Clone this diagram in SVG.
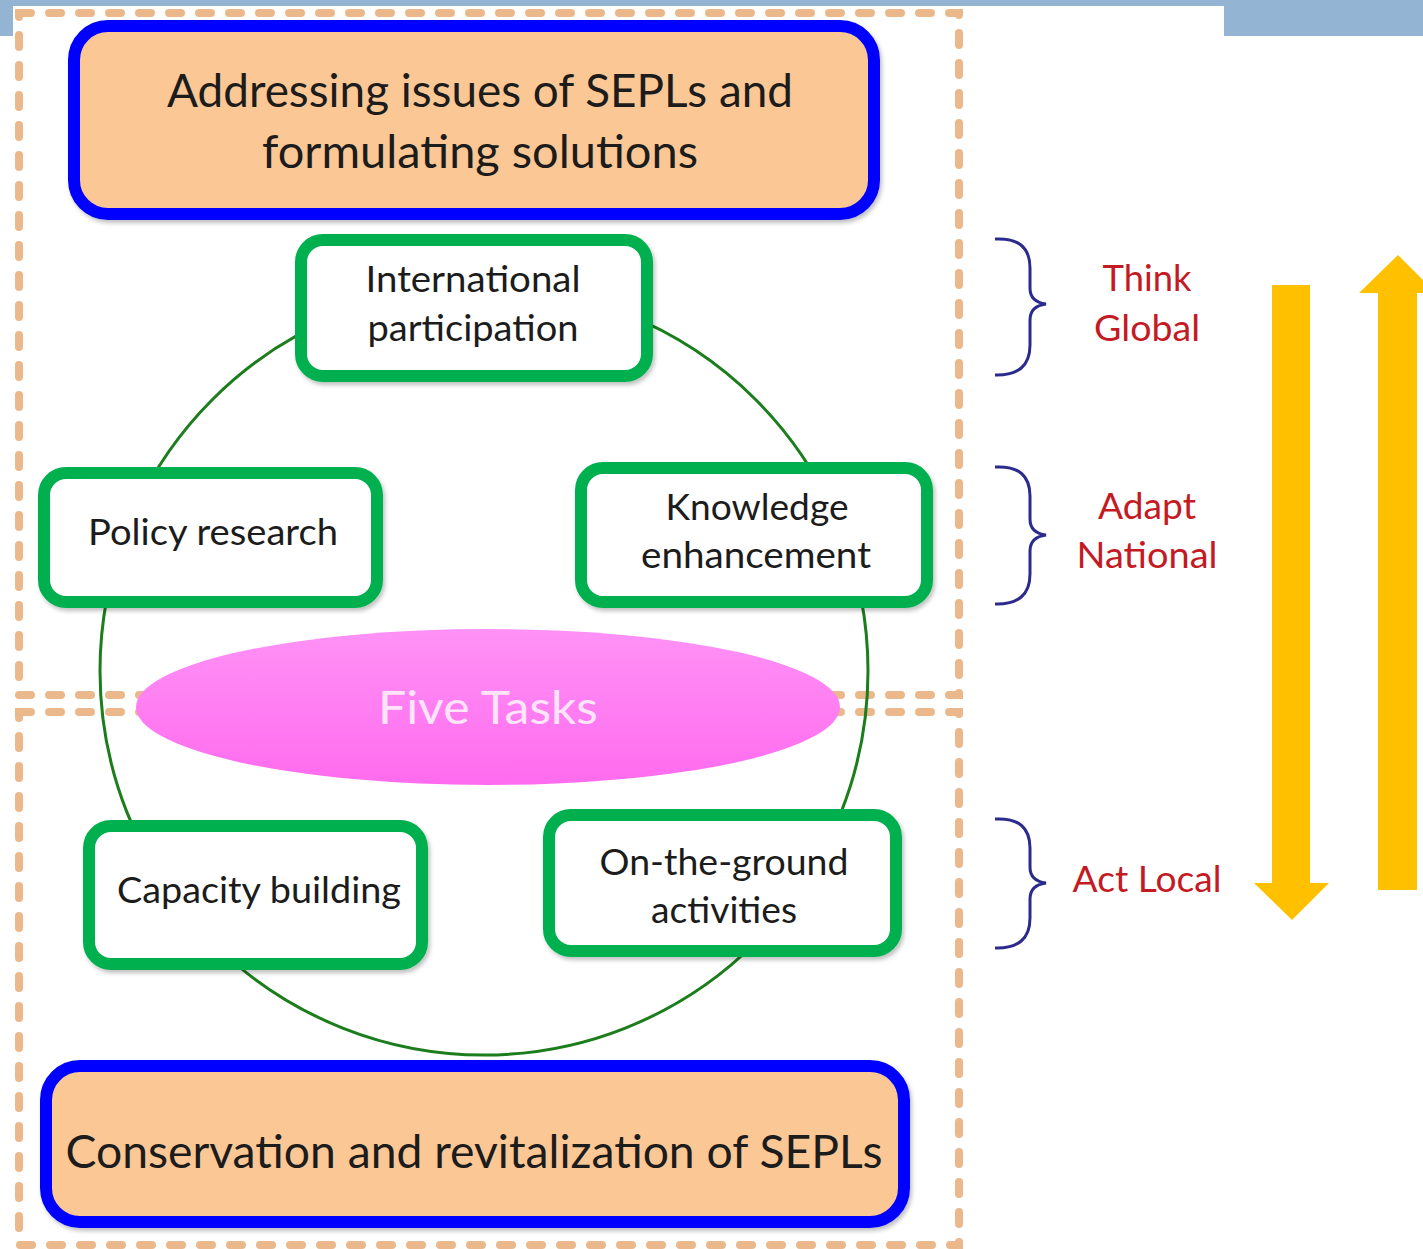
<svg xmlns="http://www.w3.org/2000/svg" width="1423" height="1249" viewBox="0 0 1423 1249">
<style>
.frame{fill:#93B4D2}
.dash{fill:none;stroke:#EBB88C;stroke-width:8;stroke-linecap:round;stroke-dasharray:12 18}
.ring{fill:none;stroke:#1B7D1B;stroke-width:3}
.task rect{fill:#FFFFFF;stroke:#00B050;stroke-width:12}
.goal rect{fill:#FBC794;stroke:#0000FF;stroke-width:12}
.t{font-family:Lato,"Open Sans","Liberation Sans",sans-serif;fill:#1C1C1C;text-anchor:middle}
.tn{font-size:37px}
.tg{font-size:46px}
.lab{font-family:Lato,"Open Sans","Liberation Sans",sans-serif;fill:#C41A24;font-size:37px;text-anchor:middle}
.brace{fill:none;stroke:#2B2B8E;stroke-width:3}
.arrow{fill:#FFC000}
</style>
<defs>
<linearGradient id="pink" x1="0" y1="0" x2="0" y2="1">
<stop offset="0" stop-color="#FF92F6"/>
<stop offset="1" stop-color="#FF6BEE"/>
</linearGradient>
<filter id="sh" x="-5%" y="-5%" width="110%" height="115%">
<feDropShadow dx="2" dy="3" stdDeviation="2" flood-color="#000" flood-opacity="0.25"/>
</filter>
</defs>
<rect width="1423" height="1249" fill="#FFFFFF"/>
<rect class="frame" x="0" y="0" width="1423" height="36"/>
<rect x="13" y="6" width="1211" height="1243" fill="#FFFFFF"/>

<g id="zones">
<rect class="dash" x="19" y="13" width="940" height="682"/>
<rect class="dash" x="19" y="712" width="940" height="533"/>
</g>

<g id="connectors">
<circle class="ring" cx="484" cy="671" r="384"/>
</g>

<g id="five-tasks">
<ellipse cx="488" cy="707" rx="352" ry="78" fill="url(#pink)"/>
<text class="t" x="488" y="724" font-size="46" fill="#FFE4FA" style="fill:#FFE4FA" textLength="220" lengthAdjust="spacingAndGlyphs">Five Tasks</text>
</g>

<g id="goal-top" class="goal">
<rect x="74" y="26" width="800" height="188" rx="34" filter="url(#sh)"/>
<text class="t tg" x="480" y="107" textLength="626" lengthAdjust="spacingAndGlyphs">Addressing issues of SEPLs and</text>
<text class="t tg" x="480" y="168" textLength="436" lengthAdjust="spacingAndGlyphs">formulating solutions</text>
</g>

<g id="international" class="task">
<rect x="301" y="240" width="346" height="136" rx="22" filter="url(#sh)"/>
<text class="t tn" x="473" y="292" textLength="215" lengthAdjust="spacingAndGlyphs">International</text>
<text class="t tn" x="473" y="341" textLength="211" lengthAdjust="spacingAndGlyphs">participation</text>
</g>

<g id="policy" class="task">
<rect x="44" y="473" width="333" height="129" rx="22" filter="url(#sh)"/>
<text class="t tn" x="213" y="545" textLength="250" lengthAdjust="spacingAndGlyphs">Policy research</text>
</g>

<g id="knowledge" class="task">
<rect x="581" y="468" width="346" height="134" rx="22" filter="url(#sh)"/>
<text class="t tn" x="757" y="520" textLength="183" lengthAdjust="spacingAndGlyphs">Knowledge</text>
<text class="t tn" x="756" y="568" textLength="230" lengthAdjust="spacingAndGlyphs">enhancement</text>
</g>

<g id="capacity" class="task">
<rect x="89" y="826" width="333" height="138" rx="22" filter="url(#sh)"/>
<text class="t tn" x="259" y="903" textLength="284" lengthAdjust="spacingAndGlyphs">Capacity building</text>
</g>

<g id="ground" class="task">
<rect x="549" y="815" width="347" height="136" rx="22" filter="url(#sh)"/>
<text class="t tn" x="724" y="875" textLength="249" lengthAdjust="spacingAndGlyphs">On-the-ground</text>
<text class="t tn" x="724" y="923" textLength="146" lengthAdjust="spacingAndGlyphs">activities</text>
</g>

<g id="goal-bottom" class="goal">
<rect x="46" y="1066" width="858" height="156" rx="34" filter="url(#sh)"/>
<text class="t tg" x="474" y="1168" textLength="817" lengthAdjust="spacingAndGlyphs">Conservation and revitalization of SEPLs</text>
</g>

<g id="think-global">
<path class="brace" d="M995,239 Q1030,237 1030,268 L1030,288 Q1030,302 1046,304 Q1030,306 1030,320 L1030,345 Q1030,376 995,375"/>
<text class="lab" x="1147" y="291" textLength="89" lengthAdjust="spacingAndGlyphs">Think</text>
<text class="lab" x="1147" y="341" textLength="106" lengthAdjust="spacingAndGlyphs">Global</text>
</g>

<g id="adapt-national">
<path class="brace" d="M995,467 Q1030,465 1030,496 L1030,519 Q1030,533 1046,535 Q1030,537 1030,551 L1030,574 Q1030,605 995,604"/>
<text class="lab" x="1147" y="519" textLength="98" lengthAdjust="spacingAndGlyphs">Adapt</text>
<text class="lab" x="1147" y="568" textLength="141" lengthAdjust="spacingAndGlyphs">National</text>
</g>

<g id="act-local">
<path class="brace" d="M995,819 Q1030,817 1030,848 L1030,867 Q1030,881 1046,883 Q1030,885 1030,899 L1030,918 Q1030,949 995,948"/>
<text class="lab" x="1147" y="892" textLength="149" lengthAdjust="spacingAndGlyphs">Act Local</text>
</g>

<g id="arrows">
<polygon class="arrow" points="1272,285 1310,285 1310,883 1329,883 1292,920 1254,883 1272,883"/>
<polygon class="arrow" points="1398,255 1436,293 1417,293 1417,890 1378,890 1378,293 1359,293"/>
</g>
</svg>
